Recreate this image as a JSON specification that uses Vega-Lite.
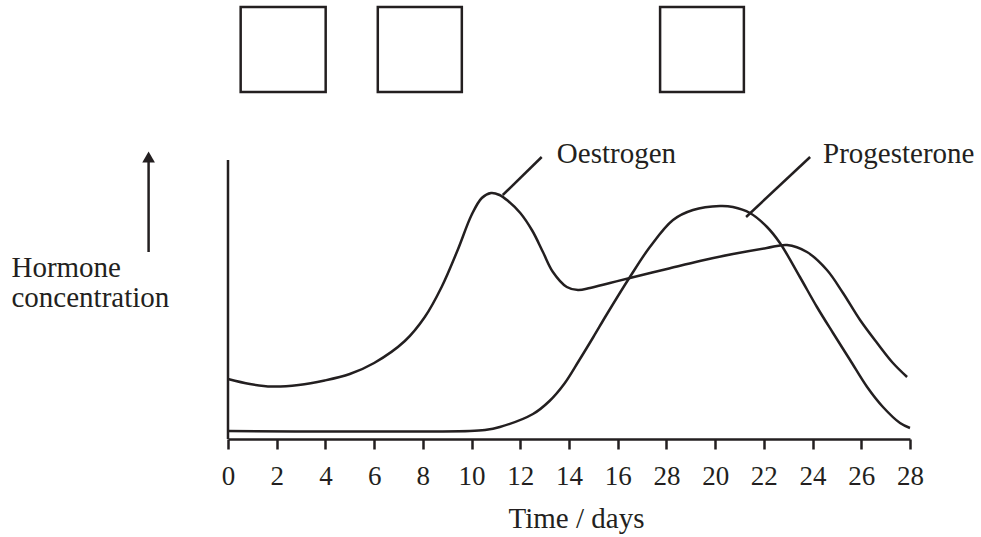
{
  "$schema": "https://vega.github.io/schema/vega-lite/v6.json",
  "autosize": "none",
  "width": 682,
  "height": 439,
  "padding": {"left": 228, "top": 0, "right": 71, "bottom": 98},
  "background": "white",
  "config": {"view": {"stroke": null}},
  "datasets": {
    "curves": [
      {"series": "Oestrogen", "day": 0, "level": 60},
      {"series": "Oestrogen", "day": 0.9, "level": 55},
      {"series": "Oestrogen", "day": 1.8, "level": 52.5},
      {"series": "Oestrogen", "day": 2.9, "level": 54},
      {"series": "Oestrogen", "day": 3.97, "level": 58.5},
      {"series": "Oestrogen", "day": 5.0, "level": 65},
      {"series": "Oestrogen", "day": 6.0, "level": 76},
      {"series": "Oestrogen", "day": 7.26, "level": 98},
      {"series": "Oestrogen", "day": 8.08, "level": 122},
      {"series": "Oestrogen", "day": 8.77, "level": 152},
      {"series": "Oestrogen", "day": 9.43, "level": 189},
      {"series": "Oestrogen", "day": 10.0, "level": 224},
      {"series": "Oestrogen", "day": 10.42, "level": 241},
      {"series": "Oestrogen", "day": 10.8, "level": 246},
      {"series": "Oestrogen", "day": 11.15, "level": 244},
      {"series": "Oestrogen", "day": 11.5, "level": 238},
      {"series": "Oestrogen", "day": 12.0, "level": 226},
      {"series": "Oestrogen", "day": 12.5, "level": 208},
      {"series": "Oestrogen", "day": 12.93, "level": 187},
      {"series": "Oestrogen", "day": 13.34, "level": 167},
      {"series": "Oestrogen", "day": 13.91, "level": 152},
      {"series": "Oestrogen", "day": 14.37, "level": 149},
      {"series": "Oestrogen", "day": 14.86, "level": 151},
      {"series": "Oestrogen", "day": 15.68, "level": 156},
      {"series": "Oestrogen", "day": 16.5, "level": 161},
      {"series": "Oestrogen", "day": 18.02, "level": 170},
      {"series": "Oestrogen", "day": 19.37, "level": 178},
      {"series": "Oestrogen", "day": 20.73, "level": 185},
      {"series": "Oestrogen", "day": 22.12, "level": 191},
      {"series": "Oestrogen", "day": 22.95, "level": 194},
      {"series": "Oestrogen", "day": 23.77, "level": 187},
      {"series": "Oestrogen", "day": 24.59, "level": 169},
      {"series": "Oestrogen", "day": 25.25, "level": 146},
      {"series": "Oestrogen", "day": 25.95, "level": 119},
      {"series": "Oestrogen", "day": 26.65, "level": 96},
      {"series": "Oestrogen", "day": 27.3, "level": 76},
      {"series": "Oestrogen", "day": 27.88, "level": 62},
      {"series": "Progesterone", "day": 0, "level": 8},
      {"series": "Progesterone", "day": 9.93, "level": 8},
      {"series": "Progesterone", "day": 10.55, "level": 9},
      {"series": "Progesterone", "day": 11.16, "level": 12},
      {"series": "Progesterone", "day": 12.52, "level": 25},
      {"series": "Progesterone", "day": 13.2, "level": 38},
      {"series": "Progesterone", "day": 13.8, "level": 55},
      {"series": "Progesterone", "day": 14.4, "level": 78},
      {"series": "Progesterone", "day": 15.0, "level": 102},
      {"series": "Progesterone", "day": 15.56, "level": 125},
      {"series": "Progesterone", "day": 16.5, "level": 162},
      {"series": "Progesterone", "day": 17.32, "level": 192},
      {"series": "Progesterone", "day": 18.27, "level": 219},
      {"series": "Progesterone", "day": 19.09, "level": 229},
      {"series": "Progesterone", "day": 20.2, "level": 233},
      {"series": "Progesterone", "day": 20.73, "level": 232},
      {"series": "Progesterone", "day": 21.43, "level": 226},
      {"series": "Progesterone", "day": 22.13, "level": 212},
      {"series": "Progesterone", "day": 22.66, "level": 196},
      {"series": "Progesterone", "day": 23.48, "level": 162},
      {"series": "Progesterone", "day": 24.18, "level": 132},
      {"series": "Progesterone", "day": 24.84, "level": 106},
      {"series": "Progesterone", "day": 25.54, "level": 79},
      {"series": "Progesterone", "day": 26.24, "level": 52},
      {"series": "Progesterone", "day": 26.89, "level": 32},
      {"series": "Progesterone", "day": 27.59, "level": 16},
      {"series": "Progesterone", "day": 28, "level": 11}
    ],
    "boxes": [
      {"d1": 0.52, "d2": 4.01, "l1": 347, "l2": 432},
      {"d1": 6.15, "d2": 9.6, "l1": 347, "l2": 432},
      {"d1": 17.74, "d2": 21.18, "l1": 347, "l2": 432}
    ],
    "segments": [
      {"name": "yaxis", "d1": 0, "d2": 0, "l1": 0, "l2": 279},
      {"name": "arrow", "d1": -3.26, "d2": -3.26, "l1": 187, "l2": 278},
      {"name": "Oestrogen pointer", "d1": 11.28, "d2": 12.88, "l1": 244, "l2": 282},
      {"name": "Progesterone pointer", "d1": 21.27, "d2": 23.9, "l1": 222, "l2": 282}
    ],
    "heads": [
      {"d": -3.26, "l": 282}
    ],
    "labels": [
      {"text": "Oestrogen", "d": 13.5, "l": 276},
      {"text": "Progesterone", "d": 24.43, "l": 276},
      {"text": "Hormone", "d": -8.89, "l": 162},
      {"text": "concentration", "d": -8.89, "l": 132}
    ]
  },
  "layer": [
    {
      "data": {"name": "curves"},
      "mark": {"type": "line", "interpolate": "catmull-rom", "stroke": "#231f20", "strokeWidth": 2.5},
      "encoding": {
        "x": {
          "field": "day", "type": "quantitative",
          "scale": {"domain": [0, 28], "nice": false, "zero": false},
          "axis": {
            "values": [0, 2, 4, 6, 8, 10, 12, 14, 16, 18, 20, 22, 24, 26, 28],
            "labelExpr": "datum.value == 18 ? '28' : datum.label",
            "grid": false,
            "domainColor": "#231f20", "domainWidth": 2.5,
            "tickColor": "#231f20", "tickWidth": 2.5, "tickSize": 10,
            "labelFont": "Liberation Serif", "labelFontSize": 27, "labelColor": "#231f20",
            "labelPadding": 14, "labelFlush": false, "labelOverlap": false,
            "title": "Time / days",
            "titleFont": "Liberation Serif", "titleFontSize": 29, "titleFontWeight": "normal",
            "titleColor": "#231f20",
            "titleX": 348, "titleY": 88, "titleAlign": "center", "titleBaseline": "alphabetic", "titleAnchor": null
          }
        },
        "y": {
          "field": "level", "type": "quantitative",
          "scale": {"domain": [0, 439], "nice": false},
          "axis": null
        },
        "detail": {"field": "series"}
      }
    },
    {
      "data": {"name": "boxes"},
      "mark": {"type": "rect", "fill": "white", "stroke": "#231f20", "strokeWidth": 2.5, "clip": false},
      "encoding": {
        "x": {"field": "d1", "type": "quantitative"},
        "x2": {"field": "d2"},
        "y": {"field": "l1", "type": "quantitative"},
        "y2": {"field": "l2"}
      }
    },
    {
      "data": {"name": "segments"},
      "mark": {"type": "rule", "stroke": "#231f20", "strokeWidth": 2.5, "clip": false},
      "encoding": {
        "x": {"field": "d1", "type": "quantitative"},
        "x2": {"field": "d2"},
        "y": {"field": "l1", "type": "quantitative"},
        "y2": {"field": "l2"}
      }
    },
    {
      "data": {"name": "heads"},
      "mark": {"type": "point", "shape": "triangle-up", "filled": true, "fill": "#231f20", "size": 160, "opacity": 1, "clip": false},
      "encoding": {
        "x": {"field": "d", "type": "quantitative"},
        "y": {"field": "l", "type": "quantitative"}
      }
    },
    {
      "data": {"name": "labels"},
      "mark": {"type": "text", "font": "Liberation Serif", "fontSize": 29, "fill": "#231f20", "align": "left", "baseline": "alphabetic", "clip": false},
      "encoding": {
        "x": {"field": "d", "type": "quantitative"},
        "y": {"field": "l", "type": "quantitative"},
        "text": {"field": "text"}
      }
    }
  ]
}
